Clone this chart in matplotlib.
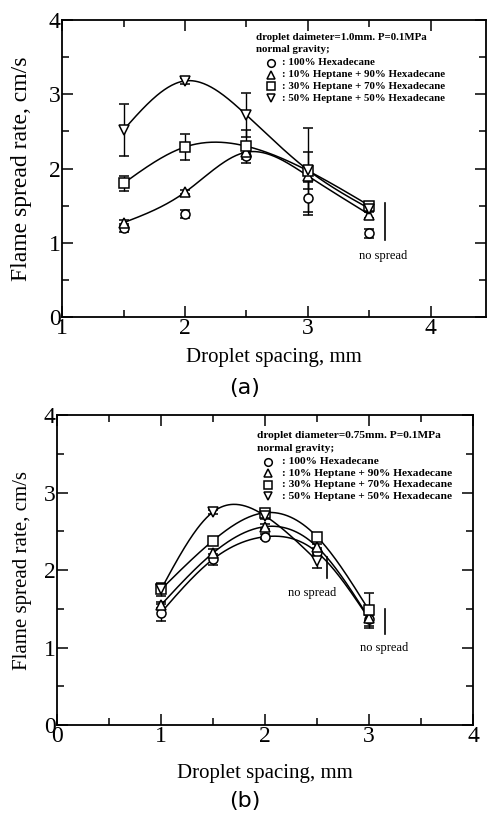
import numpy as np
import matplotlib.pyplot as plt
from matplotlib.ticker import MultipleLocator

# ------------------------
# Data, panel (a): droplet diameter 1.0 mm
# ------------------------
xa = [1.5, 2.0, 2.5, 3.0, 3.5]
a_hex100 = [1.20, 1.39, 2.17, 1.60, 1.13]
a_hex100_err = [0.05, 0.05, 0.04, 0.22, 0.06]
a_hep10 = [1.27, 1.68, 2.22, 1.90, 1.38]
a_hep10_err = [0.04, 0.03, 0.05, 0.05, 0.05]
a_hep30 = [1.80, 2.29, 2.30, 1.97, 1.50]
a_hep30_err = [0.10, 0.18, 0.22, 0.25, 0.05]
a_hep50 = [2.52, 3.18, 2.72, 1.98, 1.46]
a_hep50_err = [0.35, 0.04, 0.30, 0.57, 0.05]

# ------------------------
# Data, panel (b): droplet diameter 0.75 mm
# ------------------------
xb = [1.0, 1.5, 2.0, 2.5, 3.0]
b_hex100 = [1.45, 2.14, 2.43, 2.23, 1.37]
b_hex100_err = [0.11, 0.07, 0.03, 0.05, 0.09]
b_hep10 = [1.55, 2.22, 2.56, 2.30, 1.38]
b_hep10_err = [0.04, 0.05, 0.03, 0.04, 0.04]
b_hep30 = [1.75, 2.38, 2.74, 2.43, 1.48]
b_hep30_err = [0.08, 0.04, 0.04, 0.04, 0.23]
xb50 = [1.0, 1.5, 2.0, 2.5]
b_hep50 = [1.75, 2.75, 2.70, 2.12]
b_hep50_err = [0.05, 0.03, 0.04, 0.09]

labels = [": 100% Hexadecane",
          ": 10% Heptane + 90% Hexadecane",
          ": 30% Heptane + 70% Hexadecane",
          ": 50% Heptane + 50% Hexadecane"]
markers = ["o", "^", "s", "v"]

plt.rcParams['font.family'] = ['Liberation Serif', 'DejaVu Serif']


def spline(x, y, n=200):
    # natural cubic spline through the measured points (for the smooth fit line)
    x = np.asarray(x, float)
    y = np.asarray(y, float)
    m = len(x)
    h = np.diff(x)
    A = np.zeros((m, m))
    r = np.zeros(m)
    A[0, 0] = A[-1, -1] = 1
    for i in range(1, m - 1):
        A[i, i - 1] = h[i - 1]
        A[i, i] = 2 * (h[i - 1] + h[i])
        A[i, i + 1] = h[i]
        r[i] = 6 * ((y[i + 1] - y[i]) / h[i] - (y[i] - y[i - 1]) / h[i - 1])
    M = np.linalg.solve(A, r)
    xs = np.linspace(x[0], x[-1], n)
    k = np.clip(np.searchsorted(x, xs) - 1, 0, m - 2)
    t0 = x[k + 1] - xs
    t1 = xs - x[k]
    hk = h[k]
    ys = (M[k] * t0**3 + M[k + 1] * t1**3) / (6 * hk) \
        + (y[k] / hk - M[k] * hk / 6) * t0 + (y[k + 1] / hk - M[k + 1] * hk / 6) * t1
    return xs, ys


def points(ax, x, y, err, mk):
    ax.errorbar(x, y, yerr=err, fmt=mk, ms=6.5, mfc='white', mec='black',
                mew=1.1, ecolor='black', elinewidth=1.0, capsize=3.5,
                capthick=1.0, zorder=3)


def style_axes(ax, xlim, ylabel_size, xlabelpad, ylabel_x):
    ax.set_xlim(*xlim)
    ax.set_ylim(0, 4)
    ax.xaxis.set_major_locator(MultipleLocator(1))
    ax.xaxis.set_minor_locator(MultipleLocator(0.5))
    ax.yaxis.set_major_locator(MultipleLocator(1))
    ax.yaxis.set_minor_locator(MultipleLocator(0.5))
    ax.tick_params(which='both', direction='in', top=True, right=True,
                   labelsize=17, width=1.1)
    ax.tick_params(which='major', length=8, pad=1)
    ax.tick_params(which='minor', length=5)
    for s in ax.spines.values():
        s.set_linewidth(1.3)
    ax.set_xlabel("Droplet spacing, mm", fontsize=15, labelpad=xlabelpad)
    ax.set_ylabel("Flame spread rate, cm/s", fontsize=ylabel_size)
    ax.yaxis.set_label_coords(ylabel_x, 0.5)


def legend_block(ax, x0, y0, header, dy, tx, fs):
    ax.text(x0, y0, header[0], fontsize=fs, fontweight='bold', va='center')
    ax.text(x0, y0 - dy * 1.05, header[1], fontsize=fs, fontweight='bold', va='center')
    for i, (mk, lb) in enumerate(zip(markers, labels)):
        yy = y0 - dy * (2.2 + i * 1.0)
        ax.plot([x0 + tx[0]], [yy], mk, ms=5.5, mfc='white', mec='black', mew=1.1)
        ax.text(x0 + tx[1], yy, lb, fontsize=fs, fontweight='bold', va='center')


fig = plt.figure(figsize=(4.89, 8.27), dpi=100)

# ------------------------
# Panel (a)
# ------------------------
ax1 = fig.add_axes([0.127, 0.6167, 0.867, 0.3591])
for y in [a_hep10, a_hep30, a_hep50]:
    xs, ys = spline(xa, y)
    ax1.plot(xs, ys, color='black', lw=1.1, zorder=2)
for y, e, mk in zip([a_hex100, a_hep10, a_hep30, a_hep50],
                    [a_hex100_err, a_hep10_err, a_hep30_err, a_hep50_err], markers):
    points(ax1, xa, y, e, mk)
style_axes(ax1, (1, 4.45), 17, 6, -0.071)
ax1.plot([3.63, 3.63], [1.04, 1.54], color='black', lw=1.2)
ax1.text(3.61, 0.82, "no spread", fontsize=9, ha='center', va='center')
legend_block(ax1, 2.58, 3.77, ["droplet daimeter=1.0mm. P=0.1MPa", "normal gravity;"],
             0.158, (0.12, 0.21), 7.8)
fig.text(0.5, 0.531, "(a)", fontsize=16, ha='center', va='center', family='DejaVu Sans')

# ------------------------
# Panel (b)
# ------------------------
ax2 = fig.add_axes([0.1166, 0.1233, 0.8507, 0.3748])
for x, y in zip([xb, xb, xb, xb50], [b_hex100, b_hep10, b_hep30, b_hep50]):
    xs, ys = spline(x, y)
    ax2.plot(xs, ys, color='black', lw=1.1, zorder=2)
for x, y, e, mk in zip([xb, xb, xb, xb50], [b_hex100, b_hep10, b_hep30, b_hep50],
                       [b_hex100_err, b_hep10_err, b_hep30_err, b_hep50_err], markers):
    points(ax2, x, y, e, mk)
style_axes(ax2, (0, 4), 15, 12, -0.061)
ax2.plot([2.6, 2.6], [1.9, 2.17], color='black', lw=1.2)
ax2.text(2.45, 1.7, "no spread", fontsize=9, ha='center', va='center')
ax2.plot([3.15, 3.15], [1.18, 1.5], color='black', lw=1.2)
ax2.text(3.15, 0.99, "no spread", fontsize=9, ha='center', va='center')
legend_block(ax2, 1.92, 3.73, ["droplet diameter=0.75mm. P=0.1MPa", "normal gravity;"],
             0.15, (0.11, 0.24), 8.2)
fig.text(0.5, 0.032, "(b)", fontsize=16, ha='center', va='center', family='DejaVu Sans')

plt.savefig("out.png", dpi=100)
